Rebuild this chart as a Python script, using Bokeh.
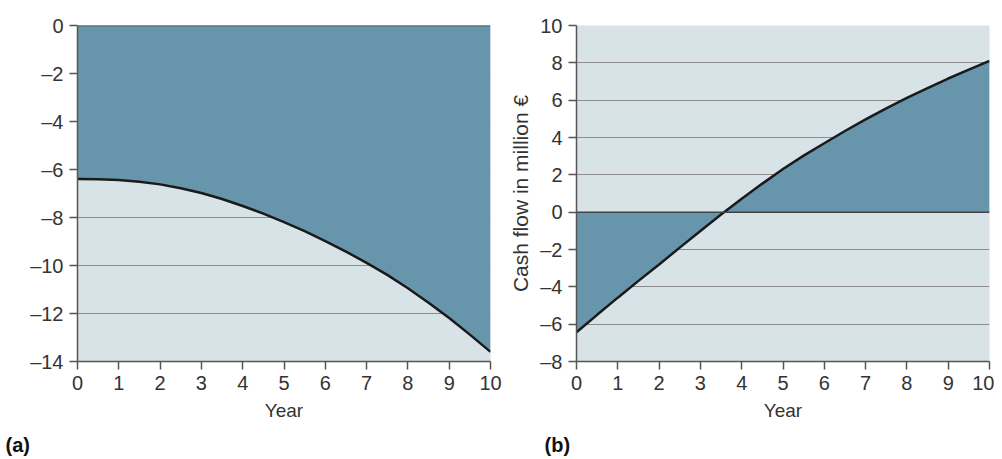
from bokeh.plotting import figure
from bokeh.layouts import row
from bokeh.models import Span, Title, CustomJSTickFormatter, FixedTicker, Range1d
from bokeh.embed import file_html
from bokeh.resources import INLINE

years = [i * 0.5 for i in range(21)]
cost_a = [-6.40, -6.41, -6.44, -6.51, -6.62, -6.78, -6.98, -7.23, -7.52, -7.84, -8.19,
          -8.57, -8.98, -9.42, -9.89, -10.39, -10.95, -11.55, -12.19, -12.88, -13.60]
cash_b = [-6.43, -5.50, -4.58, -3.68, -2.80, -1.90, -1.01, -0.13, 0.72, 1.53, 2.31,
          3.03, 3.69, 4.35, 4.97, 5.56, 6.12, 6.65, 7.16, 7.64, 8.10]
x_ticks = list(range(0, 11))
ya_ticks = list(range(-14, 1, 2))
yb_ticks = list(range(-8, 11, 2))

DARK = "#6795ab"
LIGHT = "#d8e3e8"
FONT = "Liberation Sans"
fmt = CustomJSTickFormatter(code="return tick < 0 ? '\u2013' + Math.abs(tick) : '' + tick;")


def make(ys, yticks, ylo, yhi, letter, ylabel, left_border, right_border, title_off):
    p = figure(frame_width=413, frame_height=336, output_backend="svg", toolbar_location=None,
               x_range=Range1d(0, 10), y_range=Range1d(ylo, yhi),
               min_border_left=left_border, min_border_top=25, min_border_right=right_border,
               min_border_bottom=0,
               background_fill_color=LIGHT, border_fill_color="white", outline_line_color=None)
    p.varea(x=years, y1=ys, y2=[0] * len(ys), fill_color=DARK)
    p.add_layout(Span(location=0, dimension="width", line_color="#444444", line_width=1.5))
    p.line(years, ys, line_color="#1a1a1a", line_width=2.5)
    p.xgrid.grid_line_color = None
    p.ygrid.grid_line_color = "#8c8c8c"
    p.ygrid.grid_line_width = 1
    p.ygrid.ticker = FixedTicker(ticks=yticks)
    for ax, t in ((p.xaxis[0], x_ticks), (p.yaxis[0], yticks)):
        ax.ticker = FixedTicker(ticks=t)
        ax.axis_line_color = "#555555"
        ax.axis_line_width = 1.5
        ax.major_tick_line_color = "#555555"
        ax.major_tick_line_width = 1.5
        ax.major_tick_in = 0
        ax.major_tick_out = 8
        ax.minor_tick_line_color = None
        ax.major_label_text_font = FONT
        ax.major_label_text_font_size = "20px"
        ax.major_label_text_color = "#333333"
        ax.axis_label_text_font = FONT
        ax.axis_label_text_font_size = "19px"
        ax.axis_label_text_font_style = "normal"
        ax.axis_label_text_color = "#333333"
    p.yaxis[0].formatter = fmt
    p.yaxis[0].major_label_standoff = 6
    p.xaxis[0].major_label_standoff = 6
    p.xaxis[0].axis_label = "Year"
    p.xaxis[0].axis_label_standoff = 7
    if ylabel:
        p.yaxis[0].axis_label = ylabel
        p.yaxis[0].axis_label_text_font_size = "21px"
        p.yaxis[0].axis_label_standoff = 5
    p.add_layout(Title(text=letter, text_font=FONT, text_font_size="20px", text_font_style="bold",
                       text_color="#111111", align="left", offset=title_off, standoff=16), "below")
    return p


pa = make(cost_a, ya_ticks, -14, 0, "(a)", None, 77, 16, -72)
pb = make(cash_b, yb_ticks, -8, 10, "(b)", "Cash flow in million \u20ac", 70, 5, -32)
layout = row(pa, pb, spacing=0)
open("out.html", "w").write(file_html(layout, INLINE))
